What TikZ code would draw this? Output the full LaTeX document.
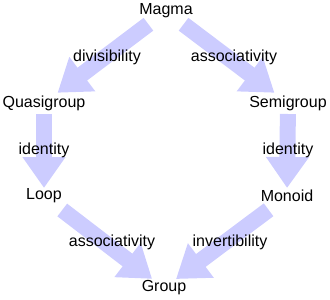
\documentclass[tikz,border=0pt]{standalone}
\usepackage{fontspec}
\setmainfont{Liberation Sans}
\usetikzlibrary{arrows.meta}
\definecolor{arrowfill}{HTML}{CCCCFF}

\begin{document}
\begin{tikzpicture}[x=1pt,y=-1pt,
    algebra/.style={font=\fontsize{16}{19}\selectfont, inner sep=1pt},
    property/.style={font=\fontsize{16}{19}\selectfont, inner sep=1pt},
    implies/.style={-{Triangle[length=31pt,width=41pt]}, line width=16pt,
                    color=arrowfill},
]
\useasboundingbox (0,0) rectangle (330,300);

\node[algebra] (magma) at (166,11) {Magma};
\node[algebra] (quasi) at (44,103) {Quasigroup};
\node[algebra] (semi) at (288,103) {Semigroup};
\node[algebra] (loop) at (44,196) {Loop};
\node[algebra] (monoid) at (287,196) {Monoid};
\node[algebra] (group) at (164,288) {Group};

% arrows first, labels on top
\draw[implies, shorten <=22pt, shorten >=17pt] (magma.center) -- (quasi.center);
\draw[implies, shorten <=22pt, shorten >=17pt] (magma.center) -- (semi.center);
\draw[implies, shorten <=11pt, shorten >=8pt] (quasi.center) -- (loop.center);
\draw[implies, shorten <=11pt, shorten >=8pt] (semi.center) -- (monoid.center);
\draw[implies, shorten <=23pt, shorten >=15pt] (loop.center) -- (group.center);
\draw[implies, shorten <=23pt, shorten >=15pt] (monoid.center) -- (group.center);

\node[property] (div) at (107,57) {divisibility};
\node[property] (assocsemi) at (234,57) {associativity};
\node[property] (idloop) at (44,150) {identity};
\node[property] (idmonoid) at (288,150) {identity};
\node[property] (assocgroup) at (112,242) {associativity};
\node[property] (inv) at (230,242) {invertibility};

\end{tikzpicture}
\end{document}
